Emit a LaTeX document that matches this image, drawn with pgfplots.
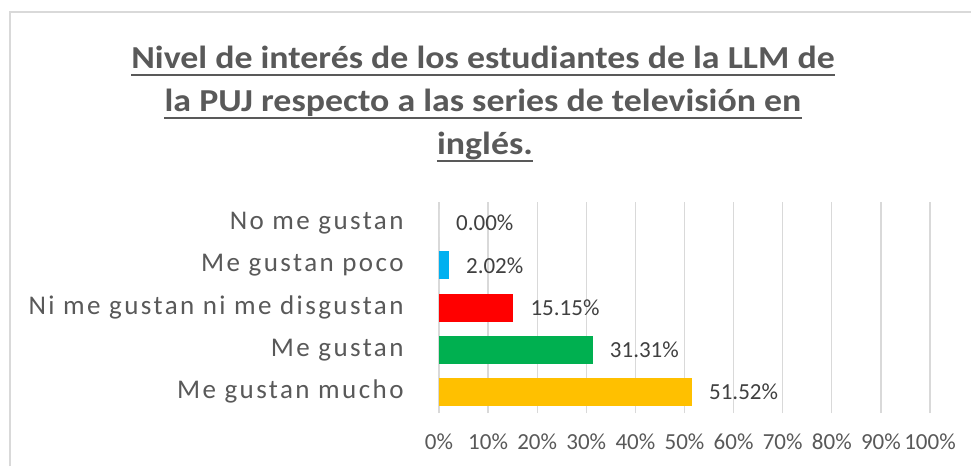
\documentclass[border=0pt]{standalone}
\usepackage{pgfplots}
\pgfplotsset{compat=1.18}
\usepackage{fontspec}
\setmainfont{Carlito}
\definecolor{txtgray}{HTML}{595959}
\definecolor{valgray}{HTML}{404040}
\definecolor{gridgray}{HTML}{D9D9D9}
\definecolor{cblue}{RGB}{0,176,240}
\definecolor{cred}{RGB}{255,0,0}
\definecolor{cgreen}{RGB}{0,176,80}
\definecolor{cgold}{RGB}{255,192,0}
\newcommand{\ttl}[1]{\scalebox{1.12}[1]{\fontsize{32}{38}\selectfont\bfseries #1}}
\begin{document}
\begin{tikzpicture}[x=1pt,y=1pt]
\path[use as bounding box, fill=white] (0,0) rectangle (971,466);
\draw[gridgray, line width=2pt] (10,0) -- (10,454) -- (971,454);
\begin{scope}[every node/.style={anchor=base, text=txtgray, inner sep=0pt}]
\node (t1) at (483,397) {\ttl{Nivel de interés de los estudiantes de la LLM de}};
\node (t2) at (483,354) {\ttl{la PUJ respecto a las series de televisión en}};
\node (t3) at (485,311) {\ttl{inglés.}};
\end{scope}
\foreach \n in {t1,t2,t3}{
  \draw[txtgray, line width=2.3pt] ([yshift=-5.8pt]\n.base west) -- ([yshift=-5.8pt]\n.base east);
}
\begin{axis}[
  at={(439pt,53pt)}, anchor=south west,
  scale only axis, width=491pt, height=211pt,
  xmin=0, xmax=100, ymin=-0.5, ymax=4.5,
  xbar, bar width=28pt, bar shift=0pt,
  axis line style={draw=none}, tick style={draw=none},
  xmajorgrids, grid style={gridgray, line width=1.3pt},
  xtick={0,10,...,100},
  xticklabels={0\%,10\%,20\%,30\%,40\%,50\%,60\%,70\%,80\%,90\%,100\%},
  xticklabel style={font=\fontsize{23}{27}\selectfont, text=txtgray, inner sep=0pt, anchor=center, yshift=-29pt},
  ytick={0,1,2,3,4},
  yticklabels={Me gustan mucho, Me gustan, Ni me gustan ni me disgustan, Me gustan poco, No me gustan},
  yticklabel style={font=\fontsize{27}{32}\selectfont\addfontfeature{LetterSpace=9}, text=txtgray, inner sep=0pt, anchor=east, xshift=-31pt},
  /pgf/number format/assume math mode=true,
  nodes near coords={\pgfmathprintnumber[fixed, fixed zerofill, precision=2, assume math mode=true]{\pgfplotspointmeta}\%},
  point meta=x,
  nodes near coords style={font=\fontsize{23}{27}\selectfont, text=valgray, anchor=west, inner sep=0pt, xshift=17pt},
  every axis plot/.append style={draw=none},
  clip=false,
]
\addplot[fill=cgold] coordinates {(51.52,0)};
\addplot[fill=cgreen] coordinates {(31.31,1)};
\addplot[fill=cred] coordinates {(15.15,2)};
\addplot[fill=cblue] coordinates {(2.02,3)};
\addplot[fill=white, draw=none] coordinates {(0,4)};
\end{axis}
\end{tikzpicture}
\end{document}
